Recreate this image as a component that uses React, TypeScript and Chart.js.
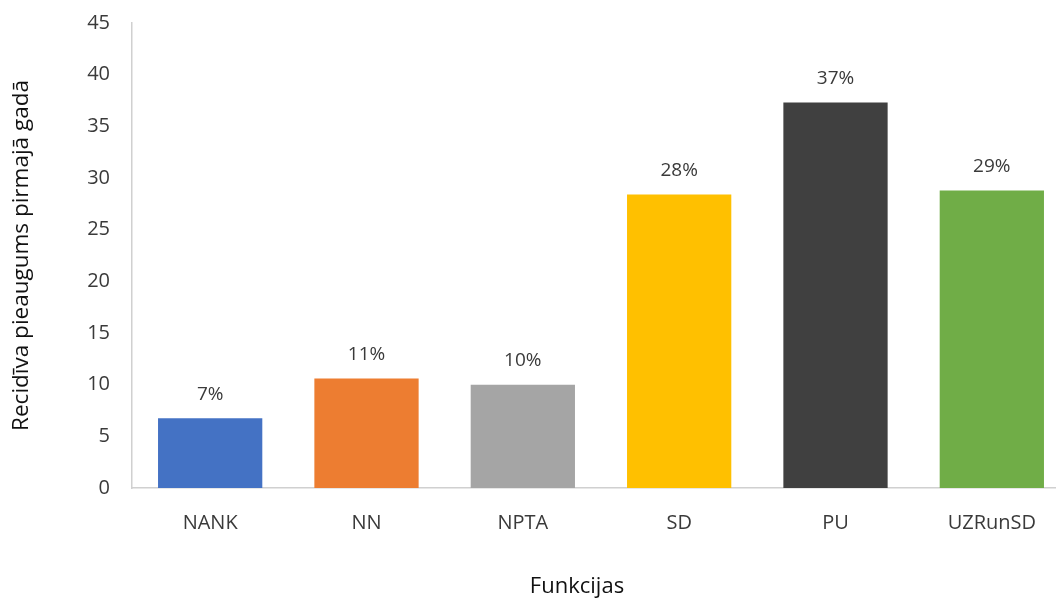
import React, { useEffect, useRef } from 'react';
import { Chart, registerables } from 'chart.js';

Chart.register(...registerables);

const categories = ['NANK', 'NN', 'NPTA', 'SD', 'PU', 'UZRunSD'];
const values = [6.75, 10.6, 10.0, 28.4, 37.3, 28.8];
const valueLabels = ['7%', '11%', '10%', '28%', '37%', '29%'];
const barColors = ['#4472C4', '#ED7D31', '#A5A5A5', '#FFC000', '#404040', '#70AD47'];
const yMin = 0;
const yMax = 45;
const yStep = 5;
const yTitle = 'Recidīva pieaugums pirmajā gadā';
const xTitle = 'Funkcijas';

const FONT = "'Open Sans', 'Noto Sans', sans-serif";
const TEXT = '#3a3a3a';

const valueLabelPlugin = {
  id: 'valueLabels',
  afterDatasetsDraw(chart: any) {
    const ctx = chart.ctx;
    const meta = chart.getDatasetMeta(0);
    ctx.save();
    ctx.font = `19px ${FONT}`;
    ctx.fillStyle = TEXT;
    ctx.textAlign = 'center';
    ctx.textBaseline = 'middle';
    meta.data.forEach((bar: any, i: number) => {
      ctx.fillText(valueLabels[i], bar.x, bar.y - 24);
    });
    ctx.restore();
  },
};

const xTitlePlugin = {
  id: 'xTitle',
  afterDraw(chart: any) {
    const ctx = chart.ctx;
    const area = chart.chartArea;
    ctx.save();
    ctx.font = `22px ${FONT}`;
    ctx.fillStyle = '#111111';
    ctx.textAlign = 'center';
    ctx.textBaseline = 'middle';
    ctx.fillText(xTitle, (area.left + area.right) / 2 - 24, area.bottom + 99);
    ctx.restore();
  },
};

export default function App() {
  const ref = useRef<HTMLCanvasElement | null>(null);

  useEffect(() => {
    document.body.style.overflow = 'hidden';
    if (!ref.current) return;
    const chart = new Chart(ref.current, {
      type: 'bar',
      data: {
        labels: categories,
        datasets: [
          {
            data: values,
            backgroundColor: barColors,
            borderWidth: 0,
            barPercentage: 0.667,
            categoryPercentage: 1,
          },
        ],
      },
      options: {
        animation: false,
        responsive: false,
        maintainAspectRatio: false,
        layout: { padding: { top: 23, left: 0, right: 0, bottom: 0 } },
        plugins: {
          legend: { display: false },
          tooltip: { enabled: false },
        },
        scales: {
          x: {
            grid: { display: false, drawTicks: false },
            border: { display: true, color: '#D0D0D0', width: 1.5 },
            ticks: {
              padding: 23,
              color: TEXT,
              font: { family: FONT, size: 20 },
            },
            afterFit(scale: any) {
              scale.height = 111;
            },
          },
          y: {
            min: yMin,
            max: yMax,
            grid: { display: false, drawTicks: false },
            border: { display: true, color: '#D0D0D0', width: 1.5 },
            ticks: {
              stepSize: yStep,
              padding: 22,
              color: TEXT,
              font: { family: FONT, size: 20 },
            },
            title: {
              display: true,
              text: yTitle,
              color: '#111111',
              font: { family: FONT, size: 22.5 },
              padding: { top: 8, bottom: 0 },
            },
            afterFit(scale: any) {
              scale.width = 132;
              scale.paddingTop = 0;
              scale.paddingBottom = 0;
            },
          },
        },
      },
      plugins: [valueLabelPlugin, xTitlePlugin],
    });
    return () => chart.destroy();
  }, []);

  return (
    <div style={{ position: 'fixed', left: 0, top: 0, width: 1070, height: 599, background: '#fff' }}>
      <canvas ref={ref} width={1070} height={599} style={{ width: 1070, height: 599, display: 'block' }} />
    </div>
  );
}
